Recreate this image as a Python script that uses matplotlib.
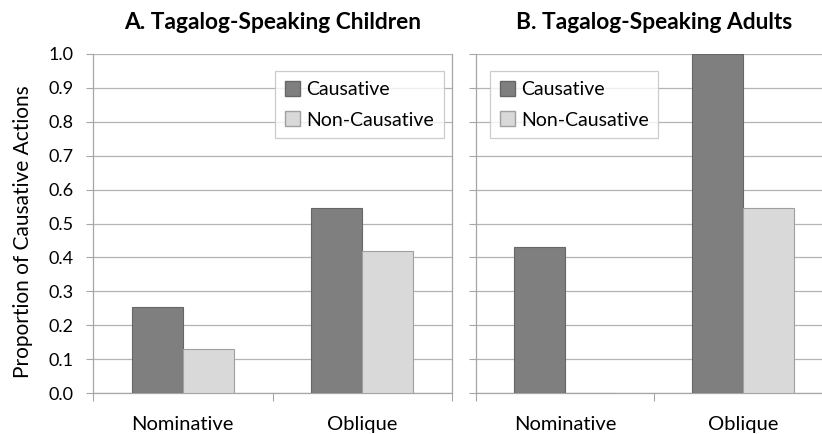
import matplotlib
matplotlib.use("Agg")
import matplotlib.pyplot as plt
import numpy as np
from matplotlib.patches import Patch

plt.rcParams['font.family'] = ['Lato', 'DejaVu Sans']

categories = ["Nominative", "Oblique"]
series = ["Causative", "Non-Causative"]
children_causative = [0.255, 0.545]
children_noncausative = [0.13, 0.42]
adults_causative = [0.43, 1.0]
adults_noncausative = [0.0, 0.545]
titles = ["A. Tagalog-Speaking Children", "B. Tagalog-Speaking Adults"]
ylabel = "Proportion of Causative Actions"
yticks = [round(0.1 * i, 1) for i in range(11)]

dark = "#7f7f7f"
light = "#d9d9d9"
grid_c = "#b3b3b3"
spine_c = "#a6a6a6"

fig = plt.figure(figsize=(8.22, 4.34), dpi=100)
W, H = 822, 434
ax1 = fig.add_axes([93 / W, 1 - 393 / H, (452 - 93) / W, (393 - 54) / H])
ax2 = fig.add_axes([476 / W, 1 - 393 / H, (832 - 476) / W, (393 - 54) / H])

bw = 0.285
x = np.arange(len(categories))
for ax, c, n, t, loc in [(ax1, children_causative, children_noncausative, titles[0], (0.507, 0.95)),
                         (ax2, adults_causative, adults_noncausative, titles[1], (0.039, 0.95))]:
    ax.set_ylim(0, 1.0)
    ax.set_xlim(-0.5, 1.5)
    ax.set_yticks(yticks)
    ax.yaxis.grid(True, color=grid_c, linewidth=0.9)
    ax.set_axisbelow(True)
    ax.bar(x - bw / 2, c, bw, color=dark, edgecolor="#666666", linewidth=0.8, zorder=3)
    ax.bar(x + bw / 2, n, bw, color=light, edgecolor="#a0a0a0", linewidth=0.8, zorder=3)
    ax.set_xticks([-0.5, 0.5, 1.5])
    ax.set_xticklabels([])
    ax.set_xticks(x, minor=True)
    ax.set_xticklabels(categories, minor=True, fontsize=14.5)
    ax.tick_params(axis='x', which='minor', length=0, pad=16.5)
    ax.tick_params(axis='x', which='major', length=6, color=spine_c, direction='out')
    ax.tick_params(axis='y', length=5, color=spine_c, direction='out', labelsize=13, pad=9)
    ax.spines['top'].set_visible(False)
    for s in ['left', 'bottom', 'right']:
        ax.spines[s].set_color(spine_c)
        ax.spines[s].set_linewidth(0.9)
    ax.set_title(t, fontsize=16.4, fontweight='bold', pad=18)
    handles = [Patch(facecolor=dark, edgecolor="#666666", label=series[0]),
               Patch(facecolor=light, edgecolor="#a0a0a0", label=series[1])]
    leg = ax.legend(handles=handles, loc='upper left', bbox_to_anchor=loc,
                    fontsize=14, frameon=True, fancybox=False, handlelength=0.8,
                    handleheight=0.8, handletextpad=0.3, labelspacing=0.7,
                    borderpad=0.5, borderaxespad=0)
    leg.get_frame().set_edgecolor("#c0c0c0")
    leg.get_frame().set_linewidth(0.9)

ax2.set_yticklabels([])
ax2.spines['right'].set_visible(False)
ax1.set_ylabel(ylabel, fontsize=15)
ax1.yaxis.set_label_coords(-0.168, 0.475)

fig.savefig("out.png", dpi=100)
